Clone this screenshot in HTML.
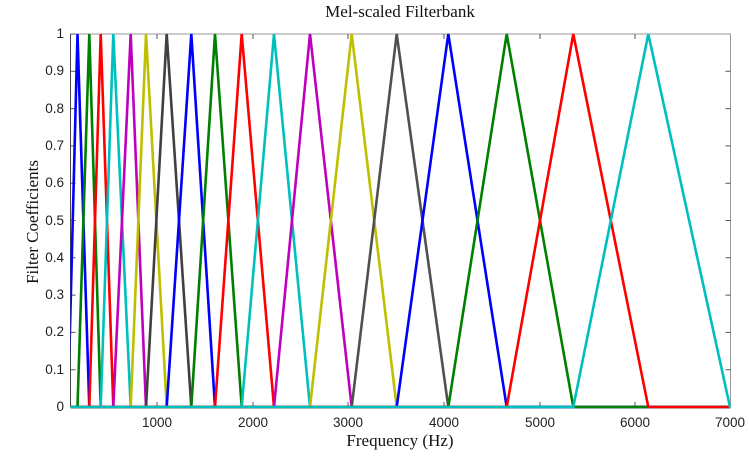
<!DOCTYPE html>
<html><head><style>
body{margin:0;background:#fff}
svg{display:block}
.t{font-family:"Liberation Sans",sans-serif;font-size:13.5px;fill:#222}
.s{font-family:"Liberation Serif",serif;font-size:17px;fill:#111}
</style></head><body>
<svg width="749" height="457" viewBox="0 0 749 457" xmlns="http://www.w3.org/2000/svg">
<defs><clipPath id="c"><rect x="70.5" y="31" width="660" height="379"/></clipPath></defs>
<rect x="70.5" y="34" width="660" height="373" fill="none" stroke="#999" stroke-width="1"/>
<g stroke="#555" stroke-width="1">
<line x1="70.5" y1="34" x2="70.5" y2="407" stroke="#444"/>
<line x1="70.5" y1="407" x2="730.5" y2="407" stroke="#444"/>
<path d="M70.5 369.7h5M70.5 332.4h5M70.5 295.1h5M70.5 257.8h5M70.5 220.5h5M70.5 183.2h5M70.5 145.9h5M70.5 108.6h5M70.5 71.3h5M70.5 34h5"/>
<path d="M730.5 369.7h-5M730.5 332.4h-5M730.5 295.1h-5M730.5 257.8h-5M730.5 220.5h-5M730.5 183.2h-5M730.5 145.9h-5M730.5 108.6h-5M730.5 71.3h-5"/>
<path d="M157 407v-5M253 407v-5M348 407v-5M444 407v-5M540 407v-5M635 407v-5M157 34v5M253 34v5M348 34v5M444 34v5M540 34v5M635 34v5"/>
</g>
<g class="t" text-anchor="end">
<text x="64" y="411">0</text><text x="64" y="374">0.1</text><text x="64" y="336">0.2</text>
<text x="64" y="299">0.3</text><text x="64" y="262">0.4</text><text x="64" y="225">0.5</text>
<text x="64" y="187">0.6</text><text x="64" y="150">0.7</text><text x="64" y="113">0.8</text>
<text x="64" y="75">0.9</text><text x="64" y="38">1</text>
</g>
<g class="t" text-anchor="middle">
<text x="157" y="427">1000</text><text x="253" y="427">2000</text><text x="348" y="427">3000</text>
<text x="444" y="427">4000</text><text x="540" y="427">5000</text><text x="635" y="427">6000</text>
<text x="730" y="427">7000</text>
</g>
<g clip-path="url(#c)" fill="none" stroke-width="2.6" stroke-linejoin="miter">
<polyline stroke="#0000ff" points="60,407 68,407 77.5,34 89.3,407 731,407"/>
<polyline stroke="#008000" points="60,407 77.5,407 89.3,34 100.7,407 731,407"/>
<polyline stroke="#ff0000" points="60,407 89.3,407 100.7,34 113.3,407 731,407"/>
<polyline stroke="#00bfbf" points="60,407 100.7,407 113.3,34 130.7,407 731,407"/>
<polyline stroke="#bf00bf" points="60,407 113.3,407 130.7,34 146,407 731,407"/>
<polyline stroke="#bfbf00" points="60,407 130.7,407 146,34 166.7,407 731,407"/>
<polyline stroke="#404040" points="60,407 146,407 166.7,34 191.3,407 731,407"/>
<polyline stroke="#0000ff" points="60,407 166.7,407 191.3,34 215,407 731,407"/>
<polyline stroke="#008000" points="60,407 191.3,407 215,34 241.7,407 731,407"/>
<polyline stroke="#ff0000" points="60,407 215,407 241.7,34 274,407 731,407"/>
<polyline stroke="#00bfbf" points="60,407 241.7,407 274,34 310,407 731,407"/>
<polyline stroke="#bf00bf" points="60,407 274,407 310,34 351.7,407 731,407"/>
<polyline stroke="#bfbf00" points="60,407 310,407 351.7,34 396.7,407 731,407"/>
<polyline stroke="#505050" points="60,407 351.7,407 396.7,34 448.3,407 731,407"/>
<polyline stroke="#0000ff" points="60,407 396.7,407 448.3,34 506.7,407 731,407"/>
<polyline stroke="#008000" points="60,407 448.3,407 506.7,34 573.3,407 731,407"/>
<polyline stroke="#ff0000" points="60,407 506.7,407 573.3,34 648.3,407 731,407"/>
<polyline stroke="#00bfbf" points="60,407 573.3,407 648.3,34 730,407 740,407"/>
</g>
<text class="s" x="400" y="17" text-anchor="middle">Mel-scaled Filterbank</text>
<text class="s" x="400" y="446" text-anchor="middle">Frequency (Hz)</text>
<text class="s" x="38" y="222" text-anchor="middle" transform="rotate(-90 38 222)">Filter Coefficients</text>
</svg>
</body></html>
